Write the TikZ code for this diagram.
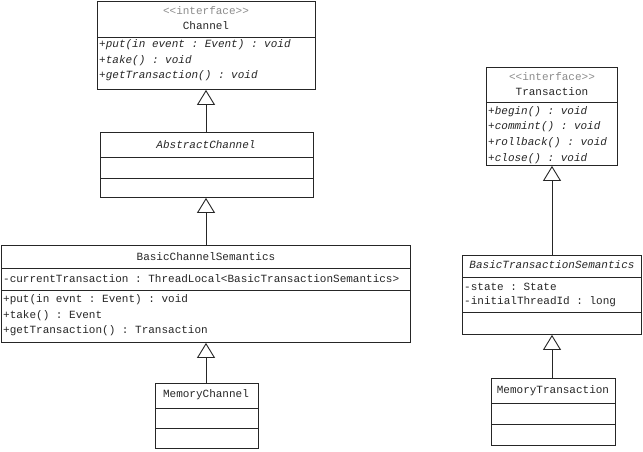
\documentclass[tikz,border=0pt]{standalone}
\usepackage{fontspec}
\setmonofont{Liberation Mono}
\usetikzlibrary{arrows.meta}
\tikzset{
  umlbox/.style={draw=black!85, line width=0.9pt, rectangle, inner sep=0pt, anchor=north west},
  divider/.style={draw=black!85, line width=0.9pt},
  txt/.style={font=\ttfamily\fontsize{11}{13}\selectfont, text=black!85, inner sep=0pt, anchor=west},
  itxt/.style={txt, font=\ttfamily\itshape\fontsize{11}{13}\selectfont},
  ctxt/.style={txt, anchor=center},
  citxt/.style={itxt, anchor=center},
  stereo/.style={ctxt, text=black!45},
  inherit/.style={draw=black!85, line width=0.9pt, -{Triangle[open, width=18pt, length=15pt, line width=0.9pt]}}
}
\begin{document}
\begin{tikzpicture}[x=1pt, y=-1pt]
\useasboundingbox[fill=white] (0,0) rectangle (643,451);

% Channel
\node[umlbox, minimum width=218pt, minimum height=88pt] (ch) at (97,1) {};
\draw[divider] (97,37) -- (315,37);
\node[stereo] (chs) at (206,11) {<<interface>>};
\node[ctxt] (cht) at (206,26) {Channel};
\node[itxt] (chm1) at (99,45) {+put(in event : Event) : void};
\node[itxt] (chm2) at (99,61) {+take() : void};
\node[itxt] (chm3) at (99,76) {+getTransaction() : void};

% AbstractChannel
\node[umlbox, minimum width=213pt, minimum height=65pt] (ac) at (100,132) {};
\draw[divider] (100,157) -- (313,157);
\draw[divider] (100,178) -- (313,178);
\node[citxt] (act) at (206,145) {AbstractChannel};

% BasicChannelSemantics
\node[umlbox, minimum width=409pt, minimum height=97pt] (bcs) at (1,245) {};
\draw[divider] (1,268) -- (410,268);
\draw[divider] (1,290) -- (410,290);
\node[ctxt] (bcst) at (206,257) {BasicChannelSemantics};
\node[txt] (bcsa) at (3,279) {-currentTransaction : ThreadLocal<BasicTransactionSemantics>};
\node[txt] (bcsm1) at (3,300) {+put(in evnt : Event) : void};
\node[txt] (bcsm2) at (3,316) {+take() : Event};
\node[txt] (bcsm3) at (3,331) {+getTransaction() : Transaction};

% MemoryChannel
\node[umlbox, minimum width=103pt, minimum height=65pt] (mc) at (155,383) {};
\draw[divider] (155,408) -- (258,408);
\draw[divider] (155,428) -- (258,428);
\node[ctxt] (mct) at (206,395) {MemoryChannel};

% Transaction
\node[umlbox, minimum width=131pt, minimum height=98pt] (tr) at (486,67) {};
\draw[divider] (486,102) -- (617,102);
\node[stereo] (trs) at (552,77) {<<interface>>};
\node[ctxt] (trt) at (552,92) {Transaction};
\node[itxt] (trm1) at (488,112) {+begin() : void};
\node[itxt] (trm2) at (488,127) {+commint() : void};
\node[itxt] (trm3) at (488,143) {+rollback() : void};
\node[itxt] (trm4) at (488,159) {+close() : void};

% BasicTransactionSemantics
\node[umlbox, minimum width=179pt, minimum height=79pt] (bts) at (462,255) {};
\draw[divider] (462,277) -- (641,277);
\draw[divider] (462,312) -- (641,312);
\node[citxt] (btst) at (552,265) {BasicTransactionSemantics};
\node[txt] (btsa1) at (464,287) {-state : State};
\node[txt] (btsa2) at (464,302) {-initialThreadId : long};

% MemoryTransaction
\node[umlbox, minimum width=124pt, minimum height=67pt] (mt) at (491,378) {};
\draw[divider] (491,403) -- (615,403);
\draw[divider] (491,424) -- (615,424);
\node[ctxt] (mtt) at (553,391) {MemoryTransaction};

% Generalizations
\draw[inherit] (ac.north -| cht) -- (ch.south -| cht);
\draw[inherit] (bcs.north -| cht) -- (ac.south -| cht);
\draw[inherit] (mc.north -| cht) -- (bcs.south -| cht);
\draw[inherit] (bts.north -| trt) -- (tr.south -| trt);
\draw[inherit] (mt.north -| trt) -- (bts.south -| trt);
\end{tikzpicture}
\end{document}
